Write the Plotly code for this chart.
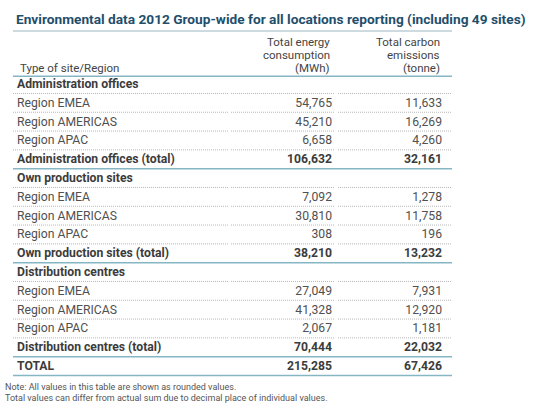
import plotly.graph_objects as go

# ---------------- data ----------------
title = "Environmental data 2012 Group-wide for all locations reporting (including 49 sites)"
header_label = "Type of site/Region"
header_energy = ["Total energy", "consumption", "(MWh)"]
header_carbon = ["Total carbon", "emissions", "(tonne)"]

groups = ["Administration offices", "Own production sites", "Distribution centres"]
regions = ["Region EMEA", "Region AMERICAS", "Region APAC"]
energy = [[54765, 45210, 6658], [7092, 30810, 308], [27049, 41328, 2067]]
carbon = [[11633, 16269, 4260], [1278, 11758, 196], [7931, 12920, 1181]]
energy_totals = [106632, 38210, 70444]
carbon_totals = [32161, 13232, 22032]
grand_label = "TOTAL"
grand_energy = 215285
grand_carbon = 67426
notes = ["Note: All values in this table are shown as rounded values.",
         "Total values can differ from actual sum due to decimal place of individual values."]

# ---------------- build rows ----------------
rows = []  # (label, energy, carbon, kind)
for g, name in enumerate(groups):
    rows.append((name, "", "", "section"))
    for r, reg in enumerate(regions):
        rows.append((reg, f"{energy[g][r]:,}", f"{carbon[g][r]:,}", "region"))
    rows.append((f"{name} (total)", f"{energy_totals[g]:,}", f"{carbon_totals[g]:,}", "total"))
rows.append((grand_label, f"{grand_energy:,}", f"{grand_carbon:,}", "grand"))

W, H = 535, 408
Y0, DY = 85, 18.8          # pixel centre of first row, row pitch
X_LABEL, X_E, X_C = 17, 332, 442
X_L0, X_R = 13, 452
FONT = "Roboto"
TEXT_C = "#505050"
BOLD_C = "#3c3c3c"
TEAL = "#86b6c4"
TITLE_C = "#1f4f6c"
BODY_SIZE = 12.2

def py(p):  # pixel y -> paper
    return 1 - p / H

fig = go.Figure()

norm_idx = [i for i, r in enumerate(rows) if r[3] == "region"]
bold_idx = [i for i, r in enumerate(rows) if r[3] != "region"]

for idx, weight, color in [(norm_idx, "normal", TEXT_C), (bold_idx, "bold", BOLD_C)]:
    fig.add_trace(go.Scatter(
        x=[X_LABEL] * len(idx), y=idx, mode="text",
        text=[rows[i][0] for i in idx], textposition="middle right",
        textfont=dict(family=FONT, size=BODY_SIZE, color=color, weight=weight),
        hoverinfo="skip", showlegend=False))
    fig.add_trace(go.Scatter(
        x=[X_E] * len(idx), y=idx, mode="text",
        text=[rows[i][1] for i in idx], textposition="middle left",
        textfont=dict(family=FONT, size=BODY_SIZE, color=color, weight=weight),
        hoverinfo="skip", showlegend=False))
    fig.add_trace(go.Scatter(
        x=[X_C] * len(idx), y=idx, mode="text",
        text=[rows[i][2] for i in idx], textposition="middle left",
        textfont=dict(family=FONT, size=BODY_SIZE, color=color, weight=weight),
        hoverinfo="skip", showlegend=False))

shapes = []
# header rule
shapes.append(dict(type="line", xref="x", yref="y", x0=X_L0, x1=X_R, y0=-0.47, y1=-0.47,
                   line=dict(color=TEAL, width=1.5)))
segments = [(X_L0, 228), (231, 334), (338, X_R)]
for i, r in enumerate(rows):
    yb = i + 0.45
    if r[3] in ("section", "region"):
        for a, b in segments:
            shapes.append(dict(type="line", xref="x", yref="y", x0=a, x1=b, y0=yb, y1=yb,
                               line=dict(color="#b8b8b8", width=1, dash="1px,1px")))
    else:
        shapes.append(dict(type="line", xref="x", yref="y", x0=X_L0, x1=X_R, y0=yb, y1=yb,
                           line=dict(color=TEAL, width=1.5)))
# title rule
shapes.append(dict(type="line", xref="x", yref="paper", x0=X_L0, x1=X_R, y0=py(31), y1=py(31),
                   line=dict(color="#9bb8c4", width=1.2)))

ann = []
ann.append(dict(text=f"<b>{title}</b>", x=14, xref="x", y=py(19), yref="paper",
                xanchor="left", yanchor="middle", showarrow=False,
                font=dict(family=FONT, size=13.7, color=TITLE_C)))
for k, (te, tc) in enumerate(zip(header_energy, header_carbon)):
    yy = py(42 + 13 * k)
    ann.append(dict(text=te, x=X_E, xref="x", y=yy, yref="paper", xanchor="right",
                    yanchor="middle", showarrow=False,
                    font=dict(family=FONT, size=11.5, color="#444444")))
    ann.append(dict(text=tc, x=X_C, xref="x", y=yy, yref="paper", xanchor="right",
                    yanchor="middle", showarrow=False,
                    font=dict(family=FONT, size=11.5, color="#444444")))
ann.append(dict(text=header_label, x=X_LABEL + 1, xref="x", y=py(68), yref="paper", xanchor="left",
                yanchor="middle", showarrow=False,
                font=dict(family=FONT, size=11.5, color="#444444")))
for k, n in enumerate(notes):
    ann.append(dict(text=n, x=3, xref="x", y=py(387 + 10.5 * k), yref="paper", xanchor="left",
                    yanchor="middle", showarrow=False,
                    font=dict(family=FONT, size=9, color="#555555")))

fig.update_layout(
    width=W, height=H, margin=dict(l=0, r=0, t=0, b=0),
    paper_bgcolor="white", plot_bgcolor="white",
    xaxis=dict(range=[0, W], visible=False, fixedrange=True),
    yaxis=dict(range=[(H - Y0) / DY, -Y0 / DY], visible=False, fixedrange=True),
    shapes=shapes, annotations=ann,
)
fig.write_html("out.html", config={"displayModeBar": False},
               post_script="document.body.style.margin='0';document.body.style.overflow='hidden';")
